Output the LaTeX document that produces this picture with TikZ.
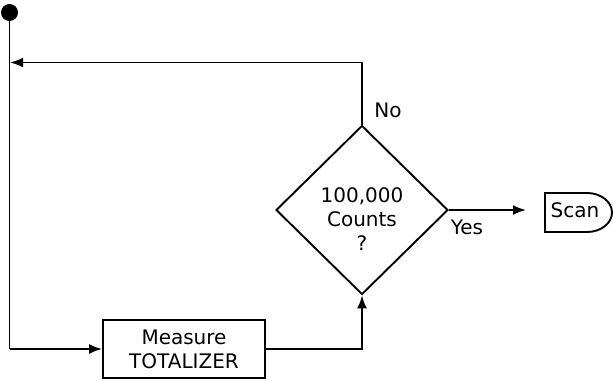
\documentclass[tikz,border=0pt]{standalone}
\usepackage{fontspec}
\setmainfont{DejaVu Sans}
\usetikzlibrary{shapes.geometric, arrows.meta}
\begin{document}
\begin{tikzpicture}[>={Latex[length=13pt,width=10pt]}, x=1pt, y=-1pt, line width=1.9pt,
    font=\fontsize{20}{24}\selectfont]
  \useasboundingbox (0,0) rectangle (613,382);

  % Nodes
  \node[circle, fill, inner sep=0pt, minimum size=17pt] (dot) at (9.5,12.5) {};
  \node[draw, minimum width=162pt, minimum height=58pt, align=center] (meas) at (184,349) {Measure\\TOTALIZER};
  \node[diamond, draw, minimum width=172pt, minimum height=169pt, inner sep=0pt] (cnt) at (362,210) {};
  \node[align=center] (cntx) at (362,219.5) {100,000\\Counts\\?};
  \node[inner sep=1pt] (scan) at (575,210) {Scan};
  \coordinate (loop) at (10,62.5);
  \coordinate (yesend) at (526,210);

  % Scan terminal
  \draw (545,193) -- (587,193) arc[start angle=90, end angle=-90, x radius=25pt, y radius=19.5pt] -- (545,232) -- cycle;

  % Arrows and Labels
  \draw (dot.center) -- (dot.center |- meas.west);
  \draw[->] (dot.center |- meas.west) -- (meas.west);
  \draw[->] (meas.east) -| (cnt.south);
  \draw[->] (cnt.north) |- (loop);
  \draw[->] (cnt.east) -- (yesend);
  \node (no) at (388,110) {No};
  \node (yes) at (467,227) {Yes};

\end{tikzpicture}
\end{document}
